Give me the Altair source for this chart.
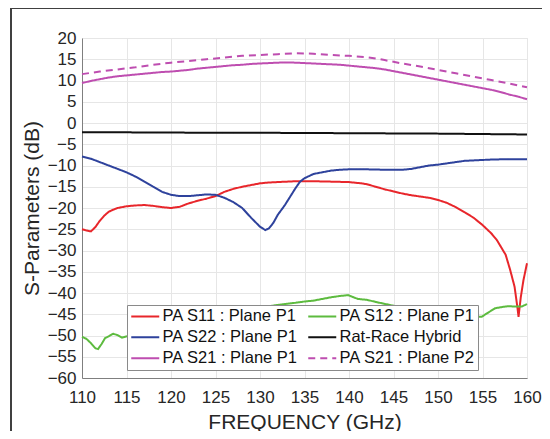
import altair as alt
import pandas as pd

# ---- data ----
s11_f = [110, 110.5, 111, 111.5, 112, 112.5, 113, 113.5, 114, 115, 116, 117, 118, 119, 120, 121, 122, 123, 124, 125,
         126, 127, 128, 129, 130, 131, 132, 134, 136, 138, 140, 141.4, 142, 143, 144, 145, 146, 147, 148, 149, 150,
         151, 152, 153, 154, 155, 156, 156.6, 157.6, 158.1, 158.6, 158.9, 159.05, 159.3, 159.6, 160]
s11_v = [-25.0, -25.3, -25.5, -24.5, -23.0, -21.8, -20.9, -20.4, -20.0, -19.6, -19.4, -19.3, -19.5, -19.8, -20.0, -19.7, -18.9, -18.3, -17.8, -17.2,
         -16.2, -15.5, -15.0, -14.6, -14.2, -14.0, -13.9, -13.7, -13.7, -13.8, -13.9, -14.2, -14.4, -15.0, -15.6, -16.1, -16.6, -17.0, -17.3, -17.6, -18.1,
         -18.8, -19.8, -21.0, -22.3, -24.0, -26.0, -27.5, -31.0, -34.5, -38.5, -43.0, -45.6, -41.0, -37.0, -33.0]

s12_f = [110, 110.5, 111, 111.5, 111.8, 112.2, 112.6, 113, 113.5, 114, 114.5, 115, 117, 120, 123, 126, 129, 132, 134,
         135, 136, 137, 138, 139, 139.9, 140.5, 141, 142, 143, 145, 148, 151, 153, 154.9, 155.5, 156.4, 157.2, 157.9,
         158.7, 159.4, 160]
s12_v = [-50.3, -50.8, -51.8, -53.0, -53.2, -52.0, -50.6, -50.2, -49.6, -49.9, -50.5, -50.2, -49.0, -47.8, -46.5, -45.0, -43.8, -42.8, -42.3,
         -42.0, -41.8, -41.4, -41.0, -40.7, -40.5, -41.0, -41.4, -41.6, -42.1, -43.0, -44.0, -45.0, -45.5, -45.6, -44.8, -43.6, -43.3, -43.1,
         -43.2, -43.2, -42.6]

s22_f = [110, 111, 112, 113, 114, 115, 116, 117, 118, 119, 120, 121, 122, 123, 124, 125, 126, 127, 128, 129, 130,
         130.6, 131, 131.5, 132, 132.8, 133.4, 134, 134.5, 135, 136, 137, 138, 139, 140, 142, 144, 146, 147, 148,
         149, 150, 151, 152, 153, 154, 155, 156, 158, 160]
s22_v = [-7.9, -8.4, -9.2, -10.0, -10.8, -11.6, -12.6, -13.8, -15.0, -16.2, -16.9, -17.2, -17.2, -17.0, -16.8, -16.9, -17.6, -18.6, -20.0, -22.3, -24.4,
         -25.2, -24.8, -23.5, -21.6, -19.3, -17.3, -15.3, -13.8, -13.0, -12.0, -11.6, -11.2, -11.0, -10.9, -10.9, -11.0, -11.0, -10.8, -10.4,
         -10.0, -9.8, -9.5, -9.2, -8.9, -8.8, -8.7, -8.6, -8.5, -8.5]

rr_f = [110, 115, 120, 125, 130, 135, 140, 145, 150, 155, 160]
rr_v = [-2.2, -2.2, -2.25, -2.3, -2.3, -2.35, -2.4, -2.45, -2.5, -2.6, -2.7]

s21a_f = [110, 111, 112, 113, 114, 115, 116, 117, 118, 119, 120, 121, 122, 123, 124, 125, 126, 127, 128, 129, 130,
          131, 132, 133, 134, 135, 136, 137, 138, 139, 140, 141, 142, 143, 144, 145, 146, 147, 148, 149, 150, 151,
          152, 153, 154, 155, 156, 157, 158, 159, 160]
s21a_v = [9.4, 9.9, 10.3, 10.7, 11.0, 11.2, 11.4, 11.6, 11.8, 12.0, 12.1, 12.3, 12.5, 12.8, 13.0, 13.2, 13.4, 13.6, 13.7, 13.9, 14.0,
          14.1, 14.2, 14.25, 14.2, 14.1, 14.0, 13.9, 13.8, 13.7, 13.5, 13.3, 13.1, 12.9, 12.6, 12.2, 11.8, 11.4, 11.0, 10.6, 10.2, 9.8,
          9.4, 9.0, 8.6, 8.2, 7.8, 7.3, 6.7, 6.2, 5.6]

s21b_f = [110, 112, 114, 115, 116, 118, 120, 122, 124, 125, 126, 128, 130, 132, 134, 136, 138, 140, 142, 143, 144,
          145, 146, 148, 150, 152, 154, 155, 156, 158, 160]
s21b_v = [11.5, 12.1, 12.6, 12.9, 13.1, 13.7, 14.2, 14.6, 15.0, 15.2, 15.4, 15.8, 16.0, 16.2, 16.4, 16.3, 16.0, 15.8, 15.5, 15.2, 14.8,
          14.4, 14.0, 13.3, 12.5, 11.7, 10.9, 10.5, 10.1, 9.3, 8.4]

# legend is filled column by column
names = ["PA S11 : Plane P1", "PA S22 : Plane P1", "PA S21 : Plane P1",
         "PA S12 : Plane P1", "Rat-Race Hybrid", "PA S21 : Plane P2"]
colors = ["#E8262B", "#2E429C", "#BE4DB0", "#5DBB3F", "#111111", "#BE4DB0"]
dashes = [[1, 0], [1, 0], [1, 0], [1, 0], [1, 0], [7, 5]]
x_ticks = list(range(110, 161, 5))
y_ticks = list(range(-60, 21, 5))

series = [("PA S11 : Plane P1", s11_f, s11_v), ("PA S12 : Plane P1", s12_f, s12_v),
          ("PA S22 : Plane P1", s22_f, s22_v), ("Rat-Race Hybrid", rr_f, rr_v),
          ("PA S21 : Plane P1", s21a_f, s21a_v), ("PA S21 : Plane P2", s21b_f, s21b_v)]
rows = []
for nm, fs, vs in series:
    for f, v in zip(fs, vs):
        rows.append({"series": nm, "freq": f, "db": v})
df = pd.DataFrame(rows)

FONT = "Liberation Sans"
TXT = "#262626"

lines = alt.Chart(df).mark_line(strokeWidth=2).encode(
    x=alt.X("freq:Q", scale=alt.Scale(domain=[110, 160], nice=False, zero=False),
            axis=alt.Axis(values=x_ticks, title="FREQUENCY (GHz)", format="d",
                          labelFlush=False, labelOverlap=False)),
    y=alt.Y("db:Q", scale=alt.Scale(domain=[-60, 20], nice=False, zero=False),
            axis=alt.Axis(values=y_ticks, title="S-Parameters (dB)", format="d",
                          labelFlush=False, labelOverlap=False)),
    color=alt.Color("series:N", scale=alt.Scale(domain=names, range=colors),
                    legend=alt.Legend(orient="none", legendX=45, legendY=267, columns=2, title=None,
                                      symbolType="M-1,0H3", symbolSize=196, symbolStrokeWidth=2,
                                      labelFontSize=16.5, labelFont=FONT, labelColor="#111",
                                      labelOffset=16, fillColor="white", strokeColor="#8a8a8a",
                                      padding=3, rowPadding=4, columnPadding=6, symbolOpacity=1)),
    strokeDash=alt.StrokeDash("series:N", scale=alt.Scale(domain=names, range=dashes)),
)

frame_df = pd.DataFrame({"k": [0]})
frame_left = alt.Chart(frame_df).mark_rule(color="#404040", strokeWidth=2).encode(
    x=alt.value(-71), y=alt.value(-31), y2=alt.value(460))
frame_top = alt.Chart(frame_df).mark_rule(color="#404040", strokeWidth=2).encode(
    x=alt.value(-72), x2=alt.value(520), y=alt.value(-30))

chart = alt.layer(lines, frame_left, frame_top).properties(
    width=445, height=340,
    autosize=alt.AutoSizeParams(type="none"),
    padding={"left": 74, "top": 30, "right": 15, "bottom": 53},
).configure_view(stroke="#E0E0E0", strokeWidth=1).configure_axis(
    labelFont=FONT, titleFont=FONT, labelFontSize=17, titleFontSize=21,
    titleFontWeight="normal", labelColor=TXT, titleColor=TXT,
    gridColor="#E6E6E6", gridWidth=1, domainColor="#7f7f7f", domainWidth=1,
    ticks=False,
).configure_axisX(labelPadding=11, titlePadding=6).configure_axisY(labelPadding=6, titlePadding=5)

chart.save("out.html", embed_options={"renderer": "svg", "actions": False})
